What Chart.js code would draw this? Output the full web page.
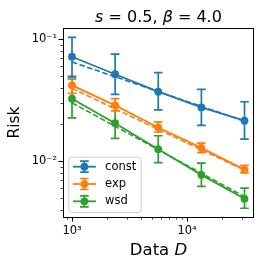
<!DOCTYPE html>
<html>
<head>
<meta charset="utf-8">
<script src="https://cdn.jsdelivr.net/npm/chart.js@4.4.1/dist/chart.umd.min.js"></script>
<style>
  html, body { margin: 0; padding: 0; background: #fff; }
</style>
</head>
<body>
<canvas id="riskChart" width="262" height="267"></canvas>
<script>
// data
const dataSizes = [1000, 2371, 5623, 13335, 31623];

const constRisk = [0.0716, 0.0514, 0.0370, 0.0275, 0.0214];
const constLo   = [0.0490, 0.0352, 0.0262, 0.0196, 0.0151];
const constHi   = [0.1030, 0.0753, 0.0530, 0.0387, 0.0306];

const expRisk = [0.0417, 0.0286, 0.0188, 0.0128, 0.0085];
const expLo   = [0.0359, 0.0258, 0.0172, 0.0117, 0.0080];
const expHi   = [0.0497, 0.0324, 0.0209, 0.0140, 0.0092];

const wsdRisk = [0.0324, 0.0204, 0.0125, 0.0077, 0.0049];
const wsdLo   = [0.0226, 0.0153, 0.0097, 0.0062, 0.0041];
const wsdHi   = [0.0470, 0.0279, 0.0161, 0.0096, 0.0060];

// dashed power-law fits, end points only
const fitSizes = [1000, 31623];
const constFit = [0.0648, 0.0212];
const expFit   = [0.0394, 0.0084];
const wsdFit   = [0.0300, 0.0051];

const seriesNames = ['const', 'exp', 'wsd'];
const seriesColors = ['#1f77b4', '#ff7f0e', '#2ca02c'];

const xTickLabels = [[1000, '10³'], [10000, '10⁴']];
const yTickLabels = [[0.1, '10⁻¹'], [0.01, '10⁻²']];

const FONT = 'DejaVu Sans';

function toPoints(xs, ys) {
  return xs.map((x, i) => ({ x: x, y: ys[i] }));
}

function labelFor(list, value) {
  for (const [v, txt] of list) {
    if (Math.abs(value - v) / v < 1e-6) return txt;
  }
  return '';
}

function mainSeries(k, ys, lo, hi) {
  return {
    label: seriesNames[k],
    data: toPoints(dataSizes, ys),
    errLo: lo,
    errHi: hi,
    showLine: true,
    borderColor: seriesColors[k],
    backgroundColor: seriesColors[k],
    borderWidth: 1.8,
    pointRadius: 3.9,
    pointBorderWidth: 0,
    order: 1
  };
}

function fitSeries(k, ys) {
  return {
    label: seriesNames[k] + ' fit',
    data: toPoints(fitSizes, ys),
    showLine: true,
    borderColor: seriesColors[k],
    borderWidth: 1.6,
    borderDash: [5.5, 2.5],
    pointRadius: 0,
    order: 2
  };
}

// log tick positions for the little tick marks
function logTicks(min, max) {
  const out = [];
  for (let e = Math.floor(Math.log10(min)); e <= Math.ceil(Math.log10(max)); e++) {
    for (let m = 1; m < 10; m++) {
      const v = m * Math.pow(10, e);
      if (v >= min && v <= max) out.push({ v: v, major: m === 1 });
    }
  }
  return out;
}

const errorBars = {
  id: 'errorBars',
  beforeDatasetDraw(chart, args) {
    const ds = chart.data.datasets[args.index];
    if (!ds.errLo) return;
    const ctx = chart.ctx;
    const xs = chart.scales.x, ys = chart.scales.y;
    ctx.save();
    ctx.strokeStyle = ds.borderColor;
    ctx.lineWidth = 1.7;
    ds.data.forEach((p, i) => {
      const px = xs.getPixelForValue(p.x);
      const y0 = ys.getPixelForValue(ds.errLo[i]);
      const y1 = ys.getPixelForValue(ds.errHi[i]);
      ctx.beginPath();
      ctx.moveTo(px, y0); ctx.lineTo(px, y1);
      ctx.moveTo(px - 4.3, y0); ctx.lineTo(px + 4.3, y0);
      ctx.moveTo(px - 4.3, y1); ctx.lineTo(px + 4.3, y1);
      ctx.stroke();
    });
    ctx.restore();
  }
};

function drawRich(ctx, parts, size, cx, cy) {
  let total = 0;
  parts.forEach(p => {
    ctx.font = (p[1] ? 'italic ' : '') + size + 'px "' + FONT + '"';
    total += ctx.measureText(p[0]).width;
  });
  let x = cx - total / 2;
  parts.forEach(p => {
    ctx.font = (p[1] ? 'italic ' : '') + size + 'px "' + FONT + '"';
    ctx.fillText(p[0], x, cy);
    x += ctx.measureText(p[0]).width;
  });
}

const decorations = {
  id: 'decorations',
  afterDraw(chart) {
    const ctx = chart.ctx;
    const ca = chart.chartArea;
    const xs = chart.scales.x, ys = chart.scales.y;
    ctx.save();

    // tick marks
    ctx.strokeStyle = '#000';
    logTicks(xs.min, xs.max).forEach(t => {
      const px = Math.round(xs.getPixelForValue(t.v)) + 0.5;
      ctx.lineWidth = t.major ? 1 : 0.7;
      ctx.beginPath();
      ctx.moveTo(px, ca.bottom);
      ctx.lineTo(px, ca.bottom + (t.major ? 4.5 : 2.6));
      ctx.stroke();
    });
    logTicks(ys.min, ys.max).forEach(t => {
      const py = Math.round(ys.getPixelForValue(t.v)) + 0.5;
      ctx.lineWidth = t.major ? 1 : 0.7;
      ctx.beginPath();
      ctx.moveTo(ca.left, py);
      ctx.lineTo(ca.left - (t.major ? 4.5 : 2.6), py);
      ctx.stroke();
    });

    // frame
    ctx.lineWidth = 1;
    ctx.strokeRect(Math.round(ca.left) + 0.5, Math.round(ca.top) + 0.5,
      Math.round(ca.right - ca.left) - 1, Math.round(ca.bottom - ca.top));

    // legend
    const lx = ca.left + 5.3, lw = 72.4, lh = 55.3;
    const ly = ca.bottom - 5 - lh;
    ctx.beginPath();
    ctx.roundRect(lx + 0.5, ly + 0.5, lw, lh, 3);
    ctx.fillStyle = 'rgba(255,255,255,0.8)';
    ctx.fill();
    ctx.strokeStyle = '#cccccc';
    ctx.lineWidth = 1;
    ctx.stroke();
    seriesNames.forEach((name, k) => {
      const ry = ly + 10 + k * 17.3;
      const h0 = lx + 4.6, h1 = h0 + 23, hc = (h0 + h1) / 2;
      ctx.strokeStyle = seriesColors[k];
      ctx.lineWidth = 1.8;
      ctx.beginPath();
      ctx.moveTo(h0, ry); ctx.lineTo(h1, ry);
      ctx.stroke();
      ctx.lineWidth = 1.7;
      ctx.beginPath();
      ctx.moveTo(hc, ry - 5.5); ctx.lineTo(hc, ry + 5.5);
      ctx.moveTo(hc - 4.3, ry - 5.5); ctx.lineTo(hc + 4.3, ry - 5.5);
      ctx.moveTo(hc - 4.3, ry + 5.5); ctx.lineTo(hc + 4.3, ry + 5.5);
      ctx.stroke();
      ctx.fillStyle = seriesColors[k];
      ctx.beginPath();
      ctx.arc(hc, ry, 3.9, 0, Math.PI * 2);
      ctx.fill();
      ctx.fillStyle = '#000';
      ctx.font = '11.5px "' + FONT + '"';
      ctx.textBaseline = 'middle';
      ctx.textAlign = 'left';
      ctx.fillText(name, h1 + 9.2, ry);
    });

    // title and axis titles
    const cx = (ca.left + ca.right) / 2;
    ctx.fillStyle = '#000';
    ctx.textBaseline = 'alphabetic';
    ctx.textAlign = 'left';
    drawRich(ctx, [['s', true], [' = 0.5, ', false], ['β', true], [' = 4.0', false]], 16, cx, 22);
    drawRich(ctx, [['Data ', false], ['D', true]], 16.5, cx, 255);

    ctx.translate(15, (ca.top + ca.bottom) / 2);
    ctx.rotate(-Math.PI / 2);
    ctx.font = '15.5px "' + FONT + '"';
    ctx.textAlign = 'center';
    ctx.textBaseline = 'middle';
    ctx.fillText('Risk', 0, 0);
    ctx.restore();
  }
};

const ctx = document.getElementById('riskChart').getContext('2d');

new Chart(ctx, {
  type: 'scatter',
  data: {
    datasets: [
      mainSeries(0, constRisk, constLo, constHi),
      fitSeries(0, constFit),
      mainSeries(1, expRisk, expLo, expHi),
      fitSeries(1, expFit),
      mainSeries(2, wsdRisk, wsdLo, wsdHi),
      fitSeries(2, wsdFit)
    ]
  },
  options: {
    responsive: false,
    animation: false,
    devicePixelRatio: 1,
    layout: { padding: { top: 28, right: 8, left: 0, bottom: 0 } },
    plugins: {
      legend: { display: false },
      tooltip: { enabled: false },
      title: { display: false }
    },
    scales: {
      x: {
        type: 'logarithmic',
        position: 'bottom',
        min: 835,
        max: 38240,
        grid: { display: false, drawTicks: false },
        border: { display: false },
        ticks: {
          autoSkip: false,
          minRotation: 0,
          maxRotation: 0,
          padding: 7,
          color: '#000',
          font: { family: FONT, size: 11.5 },
          callback: v => labelFor(xTickLabels, v)
        },
        afterFit: s => { s.height = 50; }
      },
      y: {
        type: 'logarithmic',
        position: 'left',
        min: 0.003475,
        max: 0.1231,
        grid: { display: false, drawTicks: false },
        border: { display: false },
        ticks: {
          autoSkip: false,
          padding: 6,
          color: '#000',
          font: { family: FONT, size: 11.5 },
          callback: v => labelFor(yTickLabels, v)
        },
        afterFit: s => { s.width = 63; }
      }
    }
  },
  plugins: [errorBars, decorations]
});
</script>
</body>
</html>
